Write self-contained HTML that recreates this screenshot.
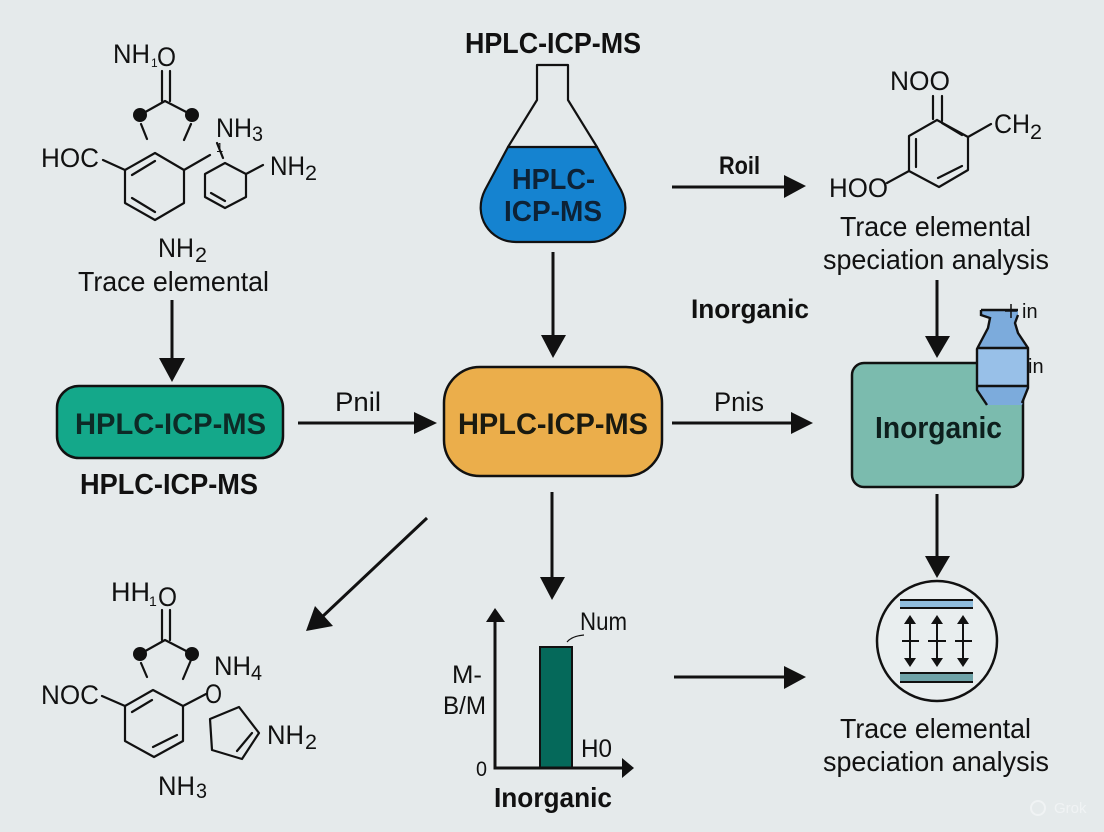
<!DOCTYPE html>
<html>
<head>
<meta charset="utf-8">
<style>
html,body{margin:0;padding:0;background:#e5eaeb;}
svg{display:block;}
text{font-family:"Liberation Sans",sans-serif;fill:#111;}
.b{font-weight:bold;}
.m{font-size:27px;}
.s{font-size:21px;}
.t{font-size:28px;}
.l{fill:none;stroke:#111;stroke-width:2.2;stroke-linecap:round;stroke-linejoin:round;}
.a{fill:none;stroke:#111;stroke-width:3;}
</style>
</head>
<body>
<svg xmlns="http://www.w3.org/2000/svg" width="1104" height="832" viewBox="0 0 1104 832">
<rect width="1104" height="832" fill="#e5eaeb"/>

<!-- Top-left molecule -->
<text class="m" x="113" y="63" textLength="37" lengthAdjust="spacingAndGlyphs">NH</text>
<text x="151" y="67" style="font-size:12px">1</text>
<text class="m" x="157" y="66" textLength="19" lengthAdjust="spacingAndGlyphs">O</text>
<path class="l" d="M162 71V101M170 71V101M140 115L165 101L192 115M141 124L147 139M191 124L184 140"/>
<circle cx="140" cy="115" r="7" fill="#111"/><circle cx="192" cy="115" r="7" fill="#111"/>
<path class="l" d="M103 160L125 170L155 153L184 170V203L155 220L125 203V170M132 175L155 161M132 198L155 212M184 170L210 155"/>
<path class="l" d="M217 143L223 158M225 163L246 174V197L225 208L205 197V174ZM211 193L225 201M246 174L263 165"/>
<text class="m" x="41" y="167" textLength="58" lengthAdjust="spacingAndGlyphs">HOC</text>
<text class="m" x="216" y="137" textLength="36" lengthAdjust="spacingAndGlyphs">NH</text>
<text class="s" x="252" y="141" textLength="11" lengthAdjust="spacingAndGlyphs">3</text>
<text style="font-size:13px" x="216" y="152">1</text>
<text class="m" x="270" y="175" textLength="35" lengthAdjust="spacingAndGlyphs">NH</text>
<text class="s" x="305" y="180" textLength="12" lengthAdjust="spacingAndGlyphs">2</text>
<text class="m" x="158" y="257" textLength="36" lengthAdjust="spacingAndGlyphs">NH</text>
<text class="s" x="195" y="262" textLength="12" lengthAdjust="spacingAndGlyphs">2</text>
<text class="t" x="78" y="291" textLength="191" lengthAdjust="spacingAndGlyphs">Trace elemental</text>

<!-- Flask -->
<text class="b" style="font-size:29px" x="465" y="53" textLength="176" lengthAdjust="spacingAndGlyphs">HPLC-ICP-MS</text>
<path d="M508 147H597L621 190C634 216 616 242 590 242H516C490 242 472 216 485 190Z" fill="#1583d0"/>
<path class="l" d="M537 65H568V100L597 147L621 190C634 216 616 242 590 242H516C490 242 472 216 485 190L508 147L537 100Z"/>
<path class="l" d="M508 147H597"/>
<text class="b" style="font-size:29px;fill:#0d2236" x="512" y="189" textLength="83" lengthAdjust="spacingAndGlyphs">HPLC-</text>
<text class="b" style="font-size:29px;fill:#0d2236" x="504" y="221" textLength="98" lengthAdjust="spacingAndGlyphs">ICP-MS</text>

<!-- Top-right molecule -->
<text class="m" x="890" y="90" textLength="60" lengthAdjust="spacingAndGlyphs">NOO</text>
<path class="l" d="M933 96V119M942 96V121M937 120L968 137V170L939 187L909 171V136L937 120M916 139V167M942 123L962 135M938 178L962 166M968 137L991 124M887 183L909 171"/>
<text class="m" x="994" y="133" textLength="36" lengthAdjust="spacingAndGlyphs">CH</text>
<text class="s" x="1030" y="139" textLength="12" lengthAdjust="spacingAndGlyphs">2</text>
<text class="m" x="829" y="197" textLength="59" lengthAdjust="spacingAndGlyphs">HOO</text>
<text class="t" x="840" y="236" textLength="191" lengthAdjust="spacingAndGlyphs">Trace elemental</text>
<text class="t" x="823" y="269" textLength="226" lengthAdjust="spacingAndGlyphs">speciation analysis</text>

<!-- Top arrows and labels -->
<path class="a" d="M172 300V362"/><path d="M159 358H185L172 382Z" fill="#111"/>
<path class="a" d="M553 252V340"/><path d="M541 335H566L553 358Z" fill="#111"/>
<path class="a" d="M672 187H786"/><path d="M784 175L806 186L784 198Z" fill="#111"/>
<text class="b" style="font-size:25px" x="719" y="174" textLength="41" lengthAdjust="spacingAndGlyphs">Roil</text>
<text class="b" style="font-size:27px" x="691" y="318" textLength="118" lengthAdjust="spacingAndGlyphs">Inorganic</text>
<path class="a" d="M937 280V338"/><path d="M925 336H950L937 358Z" fill="#111"/>

<!-- Middle row -->
<rect x="57" y="386" width="226" height="72" rx="22" fill="#14a88a" stroke="#111" stroke-width="2.5"/>
<text class="b" style="font-size:30px;fill:#0d2a26" x="75" y="434" textLength="191" lengthAdjust="spacingAndGlyphs">HPLC-ICP-MS</text>
<text class="b" style="font-size:29px" x="80" y="494" textLength="178" lengthAdjust="spacingAndGlyphs">HPLC-ICP-MS</text>
<path class="a" d="M298 423H418"/><path d="M414 412L437 423L414 434Z" fill="#111"/>
<text style="font-size:27px" x="335" y="411" textLength="46" lengthAdjust="spacingAndGlyphs">Pnil</text>
<rect x="444" y="367" width="218" height="109" rx="36" fill="#ebae4b" stroke="#111" stroke-width="2.5"/>
<text class="b" style="font-size:30px;fill:#1a1a10" x="458" y="434" textLength="190" lengthAdjust="spacingAndGlyphs">HPLC-ICP-MS</text>
<path class="a" d="M672 423H795"/><path d="M791 412L813 423L791 434Z" fill="#111"/>
<text style="font-size:27px" x="714" y="411" textLength="50" lengthAdjust="spacingAndGlyphs">Pnis</text>

<!-- Inorganic box + bottle -->
<rect x="852" y="363" width="171" height="124" rx="12" fill="#7bbbae" stroke="#111" stroke-width="2.5"/>
<text class="b" style="font-size:31px;fill:#0d1f1d" x="875" y="438" textLength="127" lengthAdjust="spacingAndGlyphs">Inorganic</text>
<path d="M981 310H1018V315L1015 323L1018 333L1028 348V388L1022 405H987L977 390V348L988 328L990 318L981 315Z" fill="#7cabdc"/>
<rect x="977" y="348" width="51" height="38" fill="#98c0e8"/>
<path d="M981 310H1018M1018 315L1015 323L1018 333L1028 348V388L1022 403" fill="none" stroke="#111" stroke-width="2.4"/>
<path d="M981 310V315L990 318L988 328L978 347L977 349V390L987 405M977 348H1028M977 386H1028" fill="none" stroke="#111" stroke-width="2.4"/>
<path d="M1011 304V318M1005 311H1017" stroke="#111" stroke-width="1.5"/>
<text style="font-size:20px" x="1022" y="318">in</text>
<text style="font-size:20px" x="1028" y="373">in</text>

<!-- Lower arrows -->
<path class="a" d="M427 518L322 617"/><path d="M306 631L315 606L333 626Z" fill="#111"/>
<path class="a" d="M552 492V580"/><path d="M540 577H565L552 600Z" fill="#111"/>
<path class="a" d="M937 494V560"/><path d="M925 556H950L937 578Z" fill="#111"/>
<path class="a" d="M674 677H788"/><path d="M784 666L806 677L784 689Z" fill="#111"/>

<!-- Bottom-left molecule -->
<text class="m" x="111" y="601" textLength="39" lengthAdjust="spacingAndGlyphs">HH</text>
<text x="149" y="606" style="font-size:14px">1</text>
<text class="m" x="158" y="606" textLength="19" lengthAdjust="spacingAndGlyphs">O</text>
<path class="l" d="M162 610V640M170 610V640M140 654L165 640L192 654M141 663L147 677M191 660L183 679"/>
<circle cx="140" cy="654" r="7" fill="#111"/><circle cx="192" cy="654" r="7" fill="#111"/>
<path class="l" d="M102 696L125 706L153 690L183 706V741L154 757L125 741V706M132 712L152 700M153 747L177 735M183 706L206 694"/>
<path class="l" d="M210 719L239 707L259 733L242 759L212 750ZM237 751L252 733"/>
<text class="m" x="41" y="704" textLength="58" lengthAdjust="spacingAndGlyphs">NOC</text>
<text class="m" x="205" y="703" textLength="17" lengthAdjust="spacingAndGlyphs">O</text>
<text class="m" x="214" y="675" textLength="37" lengthAdjust="spacingAndGlyphs">NH</text>
<text class="s" x="251" y="680" textLength="11" lengthAdjust="spacingAndGlyphs">4</text>
<text class="m" x="267" y="744" textLength="37" lengthAdjust="spacingAndGlyphs">NH</text>
<text class="s" x="305" y="749" textLength="12" lengthAdjust="spacingAndGlyphs">2</text>
<text class="m" x="158" y="795" textLength="37" lengthAdjust="spacingAndGlyphs">NH</text>
<text class="s" x="196" y="798" textLength="11" lengthAdjust="spacingAndGlyphs">3</text>

<!-- Chart -->
<rect x="540" y="647" width="32" height="121" fill="#05695a" stroke="#111" stroke-width="2"/>
<path class="a" d="M495 618V768H625"/>
<path d="M486 622L495 608L505 622Z" fill="#111"/>
<path d="M622 758L634 768L622 778Z" fill="#111"/>
<path d="M567 642Q572 636 584 635" fill="none" stroke="#111" stroke-width="1.2"/>
<text style="font-size:25px" x="580" y="630" textLength="47" lengthAdjust="spacingAndGlyphs">Num</text>
<text style="font-size:25px" x="452" y="683" textLength="30" lengthAdjust="spacingAndGlyphs">M-</text>
<text style="font-size:25px" x="443" y="714" textLength="43" lengthAdjust="spacingAndGlyphs">B/M</text>
<text style="font-size:21px" x="476" y="776" textLength="11" lengthAdjust="spacingAndGlyphs">0</text>
<text style="font-size:25px" x="581" y="757" textLength="31" lengthAdjust="spacingAndGlyphs">H0</text>
<text class="b" style="font-size:28px" x="494" y="807" textLength="118" lengthAdjust="spacingAndGlyphs">Inorganic</text>

<!-- Circle -->
<circle cx="937" cy="641" r="60" fill="#e9eeef" stroke="#111" stroke-width="2.5"/>
<rect x="900" y="600" width="73" height="8" fill="#8fbcdc"/>
<path d="M900 600H973M900 608H973" stroke="#111" stroke-width="2"/>
<rect x="900" y="672" width="73" height="10" fill="#6fa3a8"/>
<path d="M900 673H973M900 682H973" stroke="#111" stroke-width="2"/>
<path d="M910 620V662M937 620V662M963 620V662M902 641H919M928 641H946M955 641H972" stroke="#111" stroke-width="2" fill="none"/>
<path d="M904 624L910 615L916 624ZM931 624L937 615L943 624ZM957 624L963 615L969 624ZM904 658L910 667L916 658ZM931 658L937 667L943 658ZM957 658L963 667L969 658Z" fill="#111"/>

<text class="t" x="840" y="738" textLength="191" lengthAdjust="spacingAndGlyphs">Trace elemental</text>
<text class="t" x="823" y="771" textLength="226" lengthAdjust="spacingAndGlyphs">speciation analysis</text>

<!-- Watermark -->
<circle cx="1038" cy="808" r="7" fill="none" stroke="#f0f3f4" stroke-width="2"/>
<text style="font-size:15px;fill:#f0f3f4" x="1054" y="813">Grok</text>
</svg>
</body>
</html>
